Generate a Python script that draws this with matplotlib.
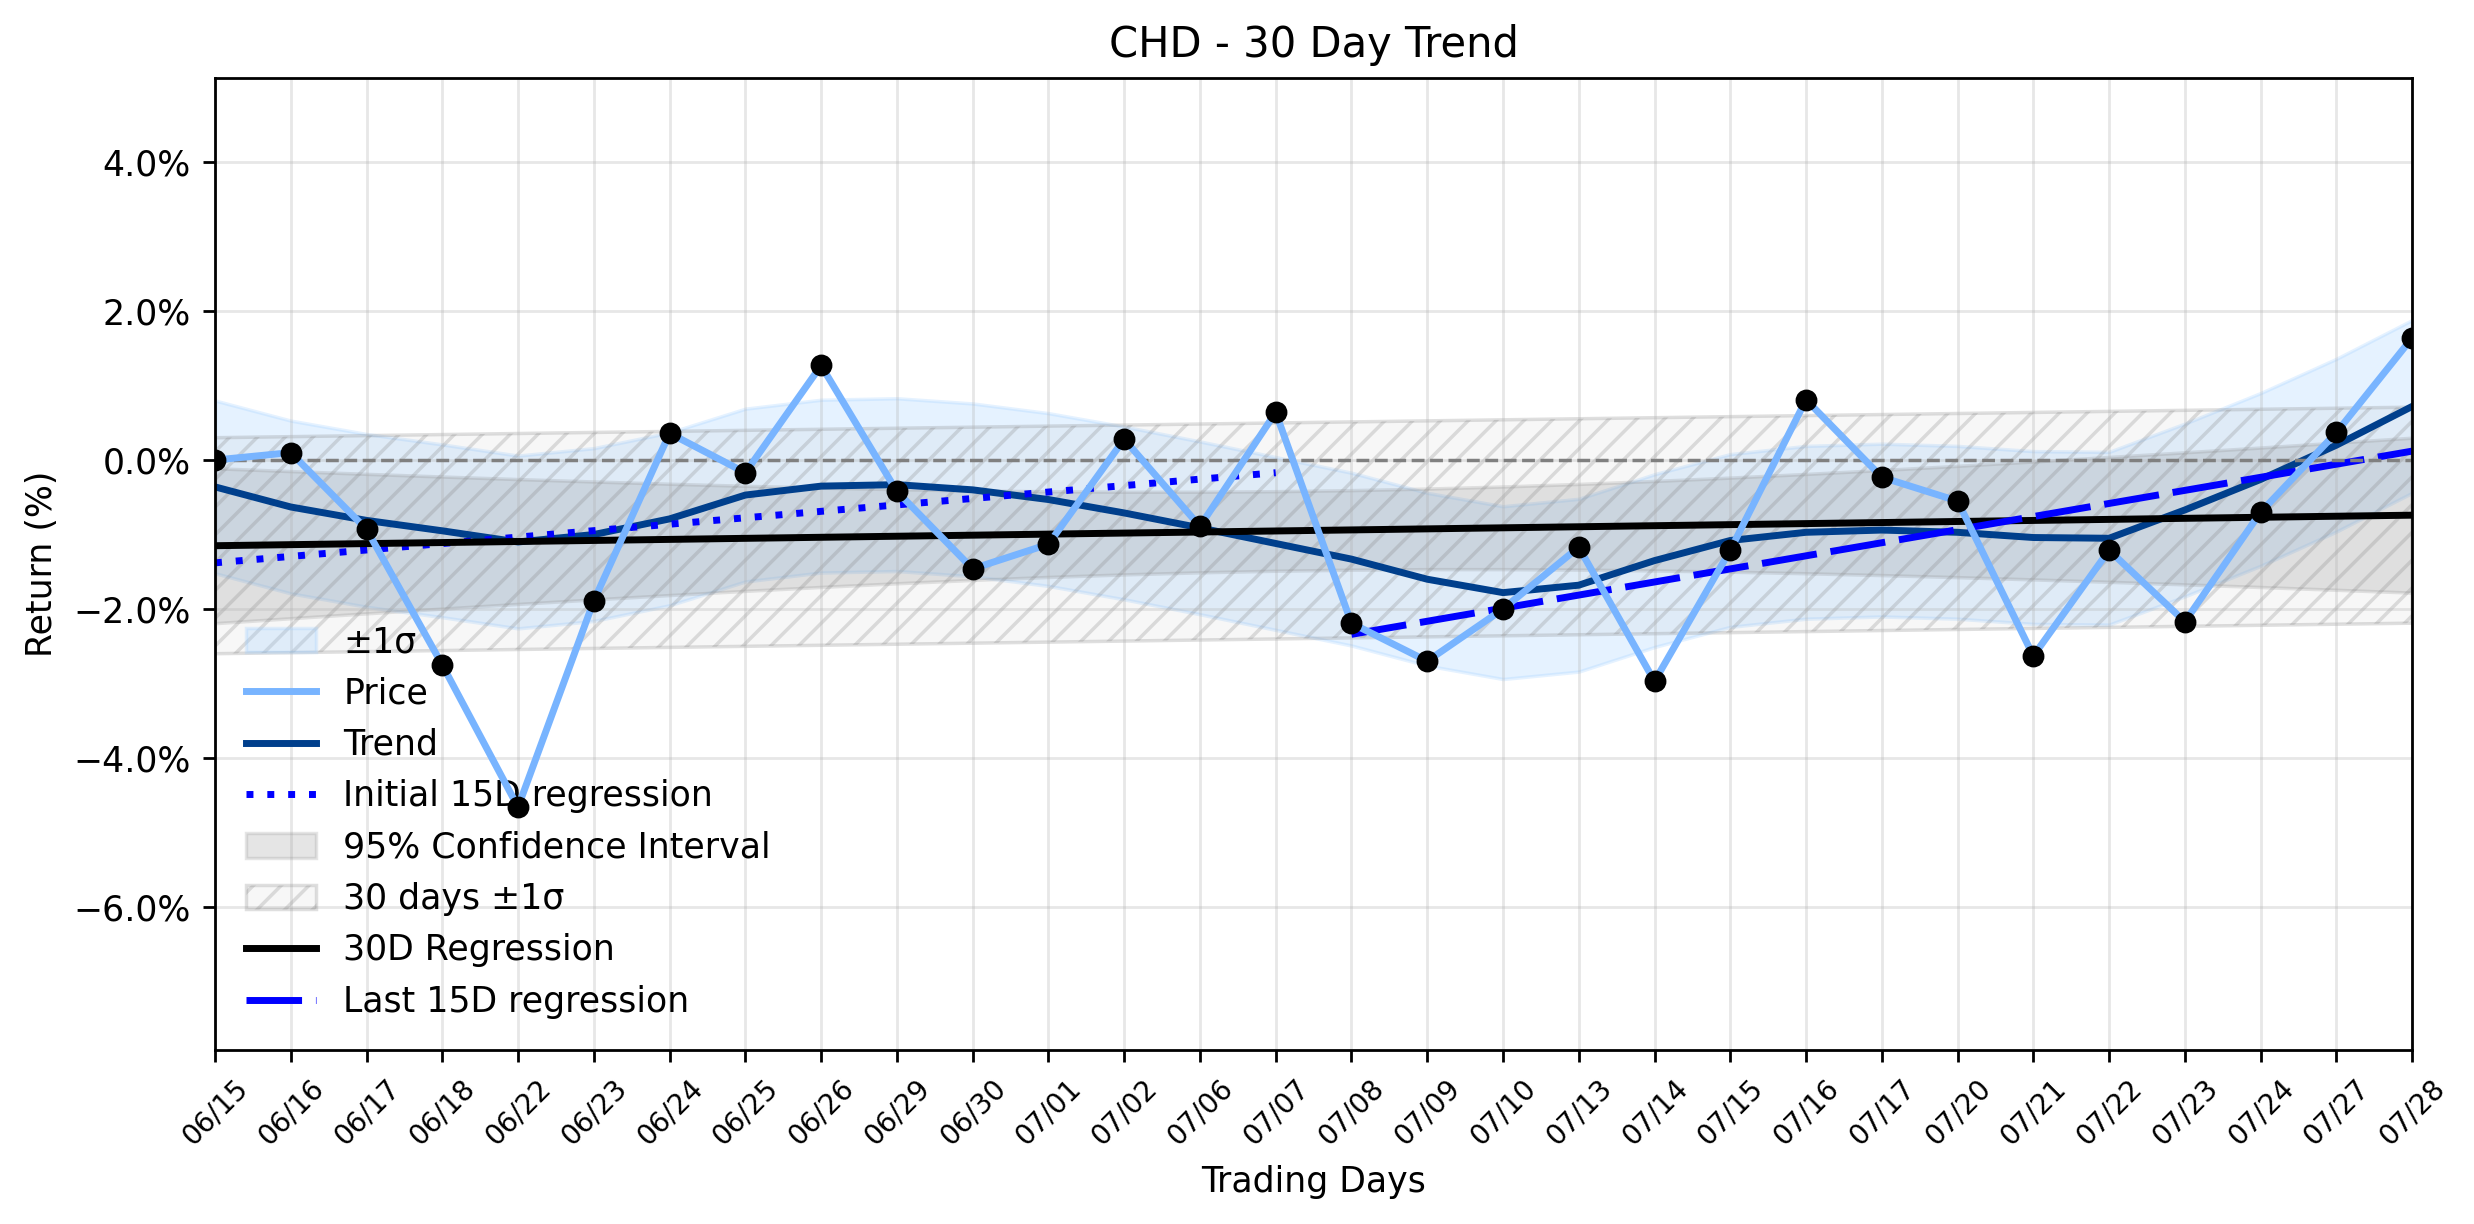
import numpy as np
from matplotlib import pyplot as plt
from matplotlib.ticker import MultipleLocator, PercentFormatter

days = ['06/15', '06/16', '06/17', '06/18', '06/22', '06/23', '06/24', '06/25',
        '06/26', '06/29', '06/30', '07/01', '07/02', '07/06', '07/07', '07/08',
        '07/09', '07/10', '07/13', '07/14', '07/15', '07/16', '07/17', '07/20',
        '07/21', '07/22', '07/23', '07/24', '07/27', '07/28']
price = [0.00, 0.10, -0.93, -2.75, -4.66, -1.89, 0.36, -0.17, 1.27, -0.42,
         -1.46, -1.13, 0.28, -0.89, 0.64, -2.19, -2.70, -2.00, -1.17, -2.97,
         -1.21, 0.81, -0.23, -0.55, -2.63, -1.21, -2.17, -0.70, 0.37, 1.64]
trend = [-0.36, -0.63, -0.81, -0.95, -1.10, -1.00, -0.79, -0.47, -0.35, -0.33,
         -0.40, -0.53, -0.71, -0.91, -1.12, -1.33, -1.60, -1.78, -1.68, -1.35,
         -1.08, -0.97, -0.94, -0.97, -1.04, -1.05, -0.67, -0.26, 0.20, 0.72]
reg30 = [-1.15, -0.74]        # 30D regression, first and last day
reg_first15 = [-1.38, -0.17]  # initial 15D regression, day 0 and day 14
reg_last15 = [-2.34, 0.12]    # last 15D regression, day 15 and day 29
sigma_trend = 1.16
sigma_30d = 1.45
ci_scale = 2.92

x = np.arange(len(days))
n = len(x)
trend = np.array(trend)
reg_line = np.linspace(reg30[0], reg30[1], n)
ci_half = ci_scale * np.sqrt(1 / n + (x - x.mean()) ** 2 / ((x - x.mean()) ** 2).sum())

dpi = 250
fig, ax = plt.subplots(figsize=(2474 / dpi, 1224 / dpi), dpi=dpi)
fig.subplots_adjust(left=0.0869, right=0.975, bottom=0.1422, top=0.9363)

ax.fill_between(x, trend - sigma_trend, trend + sigma_trend,
                color='#99ccff', alpha=0.25, label='±1σ')
ax.plot(x, price, color='#78b4ff', lw=2, label='Price', zorder=6)
ax.plot(x, trend, color='#003f8c', lw=2, label='Trend')
ax.plot([0, 14], reg_first15, color='blue', lw=2, dashes=(1, 2),
        label='Initial 15D regression')
ax.fill_between(x, reg_line - ci_half, reg_line + ci_half,
                color='gray', alpha=0.2, label='95% Confidence Interval')
ax.fill_between(x, reg_line - sigma_30d, reg_line + sigma_30d,
                facecolor=(0.5, 0.5, 0.5, 0.06), edgecolor=(0.5, 0.5, 0.5, 0.25),
                hatch='///', label='30 days ±1σ')
ax.plot([0, n - 1], reg30, color='black', lw=2, label='30D Regression')
ax.plot([15, n - 1], reg_last15, color='blue', lw=2, dashes=(8, 2),
        label='Last 15D regression')
ax.axhline(0, color='gray', lw=1, ls='--')
ax.scatter(x, price, color='black', s=28, zorder=7)

ax.set_xlim(0, n - 1)
ax.set_ylim(-7.92, 5.13)
ax.set_xticks(x)
ax.set_xticklabels(days, rotation=45, fontsize=8)
ax.yaxis.set_major_locator(MultipleLocator(2))
ax.yaxis.set_major_formatter(PercentFormatter(decimals=1))
ax.grid(True, alpha=0.3)
ax.set_xlabel('Trading Days')
ax.set_ylabel('Return (%)')
ax.set_title('CHD - 30 Day Trend', fontsize=12)
ax.legend(loc='lower left', frameon=False)

fig.savefig('out.png', dpi=dpi)
